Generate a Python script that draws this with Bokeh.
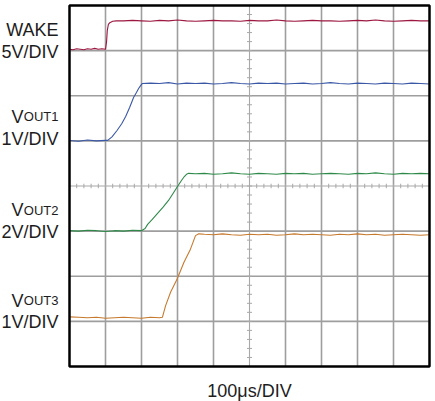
from bokeh.plotting import figure
from bokeh.models import Range1d
from bokeh.core.properties import value
from bokeh.embed import file_html
from bokeh.resources import INLINE
import numpy as np

# ---- data (time in us, level in screen divisions, 8 divs tall) ----
wake_t = [0, 10, 20, 30, 40, 50, 60, 70, 80, 90, 100,
          103, 105, 108, 112, 120, 130,
          150, 175, 200, 225, 250, 275, 300, 325, 350, 375, 400, 425, 450, 475, 500, 525, 550,
          575, 600, 625, 650, 675, 700, 725, 750, 775, 800, 825, 850, 875, 900, 925, 950, 975, 1000]
wake_v = [7.03, 7.02, 7.04, 7.03, 7.02, 7.04, 7.03, 7.05, 7.03, 7.04, 7.03,
          7.20, 7.45, 7.58, 7.62, 7.65, 7.66,
          7.66, 7.67, 7.66, 7.65, 7.67, 7.66, 7.68, 7.66, 7.65, 7.66, 7.67, 7.66, 7.66, 7.65, 7.67, 7.66, 7.66,
          7.68, 7.66, 7.65, 7.66, 7.67, 7.66, 7.66, 7.65, 7.66, 7.67, 7.66, 7.68, 7.66, 7.65, 7.66, 7.67, 7.66, 7.66]

vout1_t = [0, 25, 50, 75, 100,
           106, 118, 132, 145, 156, 167, 178, 186, 192, 197, 202,
           225, 250, 275, 300, 325, 350, 375, 400, 425, 450, 475, 500, 525, 550, 575, 600,
           625, 650, 675, 700, 725, 750, 775, 800, 825, 850, 875, 900, 925, 950, 975, 1000]
vout1_v = [5.01, 4.99, 5.02, 5.00, 5.01,
           5.01, 5.09, 5.23, 5.38, 5.54, 5.74, 5.96, 6.07, 6.16, 6.22, 6.27,
           6.28, 6.27, 6.29, 6.26, 6.28, 6.27, 6.28, 6.26, 6.27, 6.29, 6.27, 6.26, 6.28, 6.27, 6.28, 6.26,
           6.27, 6.28, 6.26, 6.27, 6.29, 6.27, 6.26, 6.28, 6.27, 6.26, 6.28, 6.27, 6.26, 6.28, 6.27, 6.26]

vout2_t = [0, 25, 50, 75, 100, 125, 150, 175, 200,
           210, 217, 230, 244, 260, 275, 288, 300, 310, 319, 325, 331,
           350, 375, 400, 425, 450, 475, 500, 525, 550, 575, 600, 625, 650,
           675, 700, 725, 750, 775, 800, 825, 850, 875, 900, 925, 950, 975, 1000]
vout2_v = [3.01, 3.00, 3.02, 3.01, 2.99, 3.01, 3.00, 3.02, 3.01,
           3.06, 3.15, 3.26, 3.39, 3.53, 3.68, 3.84, 3.99, 4.11, 4.21, 4.26, 4.28,
           4.27, 4.28, 4.26, 4.27, 4.29, 4.27, 4.26, 4.28, 4.27, 4.26, 4.28, 4.27, 4.28,
           4.26, 4.27, 4.28, 4.27, 4.26, 4.28, 4.27, 4.29, 4.27, 4.26, 4.28, 4.27, 4.28, 4.27]

vout3_t = [0, 25, 50, 75, 100, 125, 150, 175, 200, 225, 250,
           258, 267, 281, 299, 318, 336, 350, 359,
           375, 400, 425, 450, 475, 500, 525, 550, 575, 600, 625, 650, 675,
           700, 725, 750, 775, 800, 825, 850, 875, 900, 925, 950, 975, 1000]
vout3_v = [1.10, 1.09, 1.08, 1.09, 1.07, 1.08, 1.09, 1.08, 1.07, 1.09, 1.08,
           1.09, 1.35, 1.65, 1.94, 2.31, 2.60, 2.90, 2.94,
           2.93, 2.92, 2.94, 2.92, 2.91, 2.93, 2.92, 2.93, 2.91, 2.92, 2.94, 2.92, 2.93,
           2.92, 2.91, 2.93, 2.92, 2.94, 2.92, 2.93, 2.91, 2.92, 2.93, 2.92, 2.91, 2.92]

trace_colors = ["#9c1840", "#3b58a6", "#2f8a4a", "#c67a2e"]
channel_names = ["WAKE", "OUT1", "OUT2", "OUT3"]
channel_scales = ["5V/DIV", "1V/DIV", "2V/DIV", "1V/DIV"]
time_scale = "100μs/DIV"

W, H = 434, 401
FX0 = 69                  # left edge of the scope grid (px)
DX, DY = 36.0, 45.125     # pixels per division
x0 = -FX0 / DX * 100
x1 = (W - FX0) / DX * 100
y1 = (366 - 0) / DY
y0 = (366 - H) / DY

p = figure(width=W, height=H, min_border=0,
           x_range=Range1d(x0, x1), y_range=Range1d(y0, y1),
           x_axis_location=None, y_axis_location=None,
           toolbar_location=None, output_backend="svg")
p.outline_line_color = None
p.background_fill_color = "white"
p.border_fill_color = "white"
p.xgrid.visible = False
p.ygrid.visible = False

grid_col = "#9e9e9e"
gx = [100, 200, 300, 400, 600, 700, 800, 900]
p.segment(x0=gx, x1=gx, y0=0, y1=8, line_color=grid_col, line_width=1.6)
gy = [1, 2, 3, 5, 6, 7]
p.segment(x0=0, x1=1000, y0=gy, y1=gy, line_color=grid_col, line_width=1.6)
# center lines with minor ticks
cc = "#a8a8a8"
p.segment(x0=[500, 0], x1=[500, 1000], y0=[0, 4], y1=[8, 4], line_color=cc, line_width=1.1)
ty = np.arange(0.2, 8, 0.2)
p.segment(x0=500 - 7, x1=500 + 7, y0=ty, y1=ty, line_color=cc, line_width=1)
tx = np.arange(20, 1000, 20)
p.segment(x0=tx, x1=tx, y0=4 - 0.05, y1=4 + 0.05, line_color=cc, line_width=1)

for t, v, c in zip([wake_t, vout1_t, vout2_t, vout3_t], [wake_v, vout1_v, vout2_v, vout3_v], trace_colors):
    p.line(t, v, line_color=c, line_width=1.1)

# frame border
p.quad(left=0, right=1000, bottom=0, top=8, fill_color=None, line_color="black", line_width=2.5)

FONT = "Liberation Sans"
def txt(x, y, s, size="18px", align="right", font=FONT):
    p.text(x=[x], y=[y], text=[s], text_font=value(font), text_font_size=value(size),
           text_align=align, text_baseline="alphabetic", text_color="#1d1d1d")

XR = -30.6
XV = -127.5
txt(XR, 7.45, channel_names[0])
txt(XR, 6.97, channel_scales[0])
for base, sub, scale in zip([5.53, 3.46, 1.46], channel_names[1:], channel_scales[1:]):
    txt(XV, base, "V")
    txt(XR, base, sub, size="13px")
    txt(XR, base - 0.48, scale)
txt(500, -0.55, time_scale, size="18px", align="center")

open("out.html", "w").write(file_html(p, INLINE))
